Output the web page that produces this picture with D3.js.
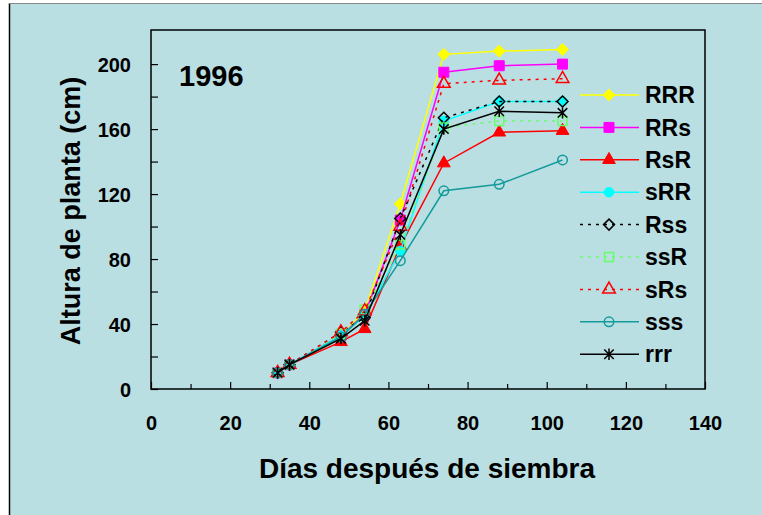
<!DOCTYPE html>
<html>
<head>
<meta charset="utf-8">
<script src="https://cdn.jsdelivr.net/npm/d3@7"></script>
<style>
  html, body { margin: 0; padding: 0; background: #ffffff; }
  svg { display: block; }
  text { font-family: "Liberation Sans", Arial, Helvetica, sans-serif; font-weight: bold; fill: #000; }
</style>
</head>
<body>
<svg id="chart" width="762" height="515"></svg>
<script>
// Days after sowing at which plant height was measured
const days = [32, 35, 48, 54, 63, 74, 88, 104];

// Plant height (cm) per treatment
const RRR = [10, 15, 33, 48, 114, 206, 208, 209];
const RRs = [10, 15, 33, 46, 104, 195, 199, 200];
const RsR = [10, 15, 29, 37, 88, 139, 158, 159];
const sRR = [10, 15, 33, 45, 85, 165, 177, 177];
const Rss = [10, 15, 35, 44, 105, 167, 177, 177];
const ssR = [10, 15, 34, 49, 89, 161, 165, 165];
const sRs = [10, 15, 35, 48, 100, 188, 190, 191];
const sss = [10, 15, 32, 46, 79, 122, 126, 141];
const rrr = [10, 15, 31, 42, 95, 160, 171, 170];

const seriesNames = ["RRR", "RRs", "RsR", "sRR", "Rss", "ssR", "sRs", "sss", "rrr"];
const seriesValues = [RRR, RRs, RsR, sRR, Rss, ssR, sRs, sss, rrr];

const yTicks = [0, 40, 80, 120, 160, 200];
const xTicks = [0, 20, 40, 60, 80, 100, 120, 140];
const yearLabel = "1996";

// Square rotated by 45 degrees
const symbolRhomb = {
  draw(ctx, size) {
    const r = Math.sqrt(size / 2);
    ctx.moveTo(0, -r); ctx.lineTo(r, 0); ctx.lineTo(0, r); ctx.lineTo(-r, 0); ctx.closePath();
  }
};
// Diagonal cross with a vertical bar
const symbolStar = {
  draw(ctx, size) {
    const r = Math.sqrt(size) / 2;
    ctx.moveTo(-r, -r); ctx.lineTo(r, r);
    ctx.moveTo(-r, r); ctx.lineTo(r, -r);
    ctx.moveTo(0, -r * 1.2); ctx.lineTo(0, r * 1.2);
  }
};

// Visual style per treatment
const styles = {
  RRR: { color: "#ffff00", symbol: symbolRhomb, size: 72, fill: true, dash: null },
  RRs: { color: "#ff00ff", symbol: d3.symbolSquare, size: 100, fill: true, dash: null },
  RsR: { color: "#ff0000", symbol: d3.symbolTriangle, size: 70, fill: true, dash: null },
  sRR: { color: "#00ffff", symbol: d3.symbolCircle, size: 72, fill: true, dash: null },
  Rss: { color: "#000000", symbol: symbolRhomb, size: 60, fill: false, dash: "3,5" },
  ssR: { color: "#66ff66", symbol: d3.symbolSquare, size: 80, fill: false, dash: "3,5" },
  sRs: { color: "#ff0000", symbol: d3.symbolTriangle, size: 70, fill: false, dash: "3,5" },
  sss: { color: "#139a9a", symbol: d3.symbolCircle, size: 72, fill: false, dash: null },
  rrr: { color: "#000000", symbol: symbolStar, size: 90, fill: false, dash: null }
};

const svg = d3.select("#chart");
const W = 762, H = 515;

// Panel background
svg.append("rect").attr("x", 10).attr("y", 3).attr("width", W - 10).attr("height", H - 3)
  .attr("fill", "#badfe3");
svg.append("line").attr("x1", 9.5).attr("x2", 9.5).attr("y1", 3).attr("y2", H)
  .attr("stroke", "#000").attr("stroke-width", 1.5);
svg.append("line").attr("x1", 9).attr("x2", W).attr("y1", 3.5).attr("y2", 3.5)
  .attr("stroke", "#888").attr("stroke-width", 1.2);

const plot = { left: 151, right: 705, top: 30, bottom: 389 };

const x = d3.scaleLinear().domain([0, 140]).range([plot.left, plot.right]);
const y = d3.scaleLinear().domain([0, 221]).range([plot.bottom, plot.top]);

// Frame
svg.append("rect")
  .attr("x", plot.left).attr("y", plot.top)
  .attr("width", plot.right - plot.left).attr("height", plot.bottom - plot.top)
  .attr("fill", "none").attr("stroke", "#000").attr("stroke-width", 1.5);

// Y axis: ticks every 20, labels every 40, ticks pointing inward
const yAxis = d3.axisLeft(y)
  .tickValues(d3.range(0, 201, 20))
  .tickSize(-7)
  .tickPadding(20)
  .tickFormat(d => yTicks.includes(d) ? d : "");
const gy = svg.append("g").attr("transform", `translate(${plot.left},0)`).call(yAxis);
gy.select(".domain").remove();
gy.selectAll(".tick line").attr("stroke", "#000").attr("stroke-width", 1.2);
gy.selectAll(".tick text").style("font-size", "20px").attr("dy", "0.35em");

// X axis: ticks every 10, labels every 20
const xAxis = d3.axisBottom(x)
  .tickValues(d3.range(0, 141, 10))
  .tickSize(0)
  .tickPadding(27)
  .tickFormat(d => xTicks.includes(d) ? d : "");
const gx = svg.append("g").attr("transform", `translate(0,${plot.bottom})`).call(xAxis);
gx.select(".domain").remove();
gx.selectAll(".tick line")
  .attr("y2", d => xTicks.includes(d) ? -7 : -5)
  .attr("stroke", "#000").attr("stroke-width", 1.2);
gx.selectAll(".tick text").style("font-size", "20px").attr("dy", "0.71em");

// Axis titles
svg.append("text")
  .attr("x", 427).attr("y", 478)
  .attr("text-anchor", "middle")
  .style("font-size", "28px")
  .text("Días después de siembra");

svg.append("text")
  .attr("transform", "translate(80,211) rotate(-90)")
  .attr("text-anchor", "middle")
  .style("font-size", "27px")
  .text("Altura de planta (cm)");

// Year label
svg.append("text")
  .attr("x", 179).attr("y", 86)
  .style("font-size", "29px")
  .text(yearLabel);

function drawMarker(g, st, cx, cy) {
  const path = d3.symbol().type(st.symbol).size(st.size)();
  const m = g.append("path").attr("d", path)
    .attr("transform", `translate(${cx},${cy})`);
  if (st.fill) {
    m.attr("fill", st.color).attr("stroke", st.color).attr("stroke-width", 1);
  } else {
    m.attr("fill", "none").attr("stroke", st.color).attr("stroke-width", 1.5);
  }
}

const line = d3.line().x(d => x(d[0])).y(d => y(d[1]));

// Series lines and markers
seriesNames.forEach((name, i) => {
  const st = styles[name];
  const pts = days.map((d, j) => [d, seriesValues[i][j]]);
  const g = svg.append("g").attr("class", "series-" + name);
  g.append("path").datum(pts)
    .attr("d", line)
    .attr("fill", "none")
    .attr("stroke", st.color)
    .attr("stroke-width", 1.5)
    .attr("stroke-dasharray", st.dash);
  pts.forEach(p => drawMarker(g, st, x(p[0]), y(p[1])));
});

// Legend
const legend = svg.append("g");
const legendTop = 95, legendStep = 32.4;
seriesNames.forEach((name, i) => {
  const st = styles[name];
  const cy = legendTop + i * legendStep;
  legend.append("line")
    .attr("x1", 580).attr("x2", 639).attr("y1", cy).attr("y2", cy)
    .attr("stroke", st.color).attr("stroke-width", 1.5)
    .attr("stroke-dasharray", st.dash);
  drawMarker(legend, st, 609, cy);
  legend.append("text")
    .attr("x", 645).attr("y", cy)
    .attr("dy", "0.36em")
    .style("font-size", "23px")
    .text(name);
});
</script>
</body>
</html>
